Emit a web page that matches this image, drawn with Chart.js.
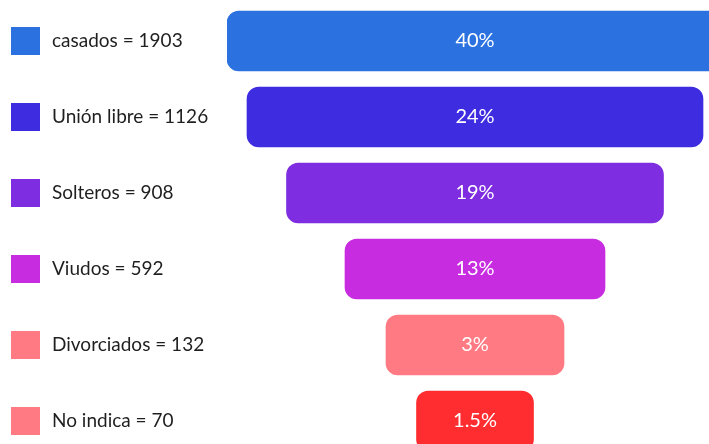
<!DOCTYPE html>
<html>
<head>
<meta charset="utf-8">
<script src="https://cdn.jsdelivr.net/npm/chart.js@4/dist/chart.umd.min.js"></script>
<style>
  html, body { margin: 0; padding: 0; background: #ffffff; }
  #wrap { width: 709px; height: 444px; position: relative; }
</style>
</head>
<body>
<div id="wrap"><canvas id="c"></canvas></div>
<script>
// ---- data ----
const categories = ['casados', 'Unión libre', 'Solteros', 'Viudos', 'Divorciados', 'No indica'];
const counts = [1903, 1126, 908, 592, 132, 70];
const percentLabels = ['40%', '24%', '19%', '13%', '3%', '1.5%'];
// visual funnel width of each bar (as drawn in the picture, arbitrary units)
const funnelWidth = [496, 456, 377, 260, 178, 117];
const barColors = ['#2B72E0', '#3E2CE0', '#7E2DE0', '#C82CE0', '#FF7A82', '#FF2D30'];
const legendColors = ['#2B72E0', '#3E2CE0', '#7E2DE0', '#C82CE0', '#FF7A82', '#FF7A82'];

const FONT = 'Lato, "Open Sans", sans-serif';

const points = funnelWidth.map((w, i) => ({ y: i, x: [-w / 2, w / 2] }));

const legendSquares = {
  id: 'legendSquares',
  afterDraw(chart) {
    const ctx = chart.ctx;
    const ys = chart.scales.y;
    ctx.save();
    categories.forEach((c, i) => {
      const yc = ys.getPixelForValue(i);
      ctx.fillStyle = legendColors[i];
      ctx.fillRect(11, Math.round(yc - 13.5), 29, 28);
    });
    ctx.restore();
  }
};

const barText = {
  id: 'barText',
  afterDatasetsDraw(chart) {
    const ctx = chart.ctx;
    const xs = chart.scales.x;
    const meta = chart.getDatasetMeta(0);
    ctx.save();
    ctx.fillStyle = '#ffffff';
    ctx.font = '400 20px ' + FONT;
    ctx.textAlign = 'center';
    ctx.textBaseline = 'middle';
    meta.data.forEach((el, i) => {
      ctx.fillText(percentLabels[i], xs.getPixelForValue(0), el.y);
    });
    ctx.restore();
  }
};

new Chart(document.getElementById('c'), {
  type: 'bar',
  data: {
    datasets: [{
      data: points,
      backgroundColor: barColors,
      borderWidth: 0,
      borderRadius: 12,
      borderSkipped: false,
      barThickness: 60
    }]
  },
  options: {
    indexAxis: 'y',
    responsive: true,
    maintainAspectRatio: false,
    animation: false,
    layout: { padding: { left: 52, top: 0, right: 0, bottom: 0 } },
    plugins: { legend: { display: false }, tooltip: { enabled: false } },
    scales: {
      x: {
        type: 'linear',
        display: false,
        offset: false,
        min: -248,
        max: 234,
        bounds: 'data'
      },
      y: {
        type: 'linear',
        reverse: true,
        offset: false,
        min: -0.539,
        max: 5.303,
        bounds: 'data',
        grid: { display: false, drawTicks: false, offset: false },
        border: { display: false },
        afterFit(scale) {
          scale.width = 175;
          scale.paddingTop = 0;
          scale.paddingBottom = 0;
        },
        afterBuildTicks(scale) {
          scale.ticks = categories.map((c, i) => ({ value: i }));
        },
        ticks: {
          autoSkip: false,
          crossAlign: 'far',
          color: '#1f1f1f',
          font: { family: FONT, size: 19 },
          callback: (v, i) => categories[i] + ' = ' + counts[i]
        }
      }
    }
  },
  plugins: [legendSquares, barText]
});
</script>
</body>
</html>
